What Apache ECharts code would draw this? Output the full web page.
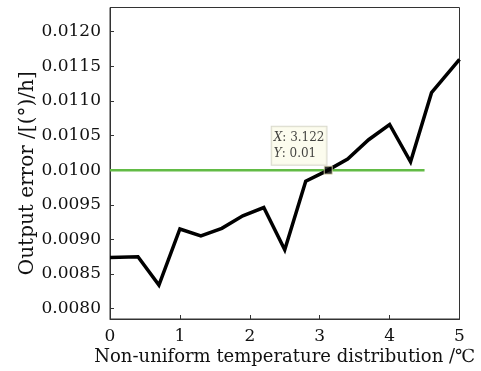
<!DOCTYPE html>
<html>
<head>
<meta charset="utf-8">
<script src="https://cdn.jsdelivr.net/npm/echarts@6/dist/echarts.min.js"></script>
<style>
  html, body { margin: 0; padding: 0; background: #fff; }
  #chart { width: 481px; height: 371px; }
</style>
</head>
<body>
<div id="chart"></div>
<script>
// Non-uniform temperature distribution (°C) vs. output error ((°)/h)
const tempDiff = [0, 0.4, 0.7, 1.0, 1.3, 1.6, 1.9, 2.2, 2.5, 2.8, 3.1, 3.4, 3.7, 4.0, 4.3, 4.6, 5.0];
const outputError = [0.00874, 0.00875, 0.00834, 0.00915, 0.00905, 0.00916, 0.00934, 0.00946, 0.00885, 0.00984, 0.00999, 0.01016, 0.01044, 0.01066, 0.01012, 0.01112, 0.01160];

// Threshold line and the data-tip point where the curve crosses it
const thresholdX = [0, 4.5];
const thresholdY = 0.01;
const tipX = 3.122;
const tipY = 0.01;

const yTicks = [0.0080, 0.0085, 0.0090, 0.0095, 0.0100, 0.0105, 0.0110, 0.0115, 0.0120];
const xTicks = [0, 1, 2, 3, 4, 5];

const FONT = 'DejaVu Serif';

const chart = echarts.init(document.getElementById('chart'));
chart.setOption({
  animation: false,
  backgroundColor: '#ffffff',
  grid: { left: 110, right: 21.5, top: 7.5, bottom: 51.5, show: true, borderColor: '#333', borderWidth: 1 },
  xAxis: {
    type: 'value',
    min: xTicks[0],
    max: xTicks[xTicks.length - 1],
    interval: 1,
    name: 'Non-uniform temperature distribution /℃',
    nameLocation: 'middle',
    nameGap: 29,
    nameMoveOverlap: false,
    nameTextStyle: { fontFamily: FONT, fontSize: 18, color: '#111' },
    axisLine: { show: true, lineStyle: { color: '#333', width: 1 } },
    axisTick: { show: true, inside: true, length: 4, lineStyle: { color: '#333' } },
    axisLabel: { fontFamily: FONT, fontSize: 17, color: '#111', margin: 9 },
    splitLine: { show: false }
  },
  yAxis: {
    type: 'value',
    min: 0.00785,
    max: 0.01235,
    name: 'Output error /[(°)/h]',
    nameLocation: 'middle',
    nameGap: 72,
    nameMoveOverlap: false,
    nameTextStyle: { fontFamily: FONT, fontSize: 20, color: '#111', padding: [0, 20, 0, 0] },
    axisLine: { show: true, lineStyle: { color: '#333', width: 1 } },
    axisTick: { show: true, inside: true, length: 4, lineStyle: { color: '#333' }, customValues: yTicks },
    axisLabel: {
      fontFamily: FONT, fontSize: 17, color: '#111', margin: 9,
      customValues: yTicks,
      formatter: v => v.toFixed(4)
    },
    splitLine: { show: false }
  },
  series: [
    {
      name: 'threshold',
      type: 'line',
      data: thresholdX.map(x => [x, thresholdY]),
      symbol: 'none',
      lineStyle: { color: '#62bb45', width: 2.5 },
      z: 2
    },
    {
      name: 'output error',
      type: 'line',
      data: tempDiff.map((x, i) => [x, outputError[i]]),
      symbol: 'none',
      lineStyle: { color: '#000', width: 3.5, join: 'miter' },
      z: 3
    },
    {
      name: 'data tip',
      type: 'scatter',
      data: [[tipX, tipY]],
      symbol: 'rect',
      symbolSize: 8,
      itemStyle: { color: '#000', borderColor: '#e8e4b8', borderWidth: 1 },
      z: 4,
      label: {
        show: true,
        position: [-52, -39],
        backgroundColor: '#fbfbea',
        borderColor: '#cfcfc2',
        borderWidth: 1,
        padding: [3, 2, 3, 2],
        lineHeight: 16,
        formatter: p => '{i|X}{n|: ' + p.value[0] + '}\n{i|Y}{n|: ' + p.value[1] + '}',
        rich: {
          i: { fontFamily: FONT, fontStyle: 'italic', fontSize: 12, color: '#111', lineHeight: 16 },
          n: { fontFamily: FONT, fontSize: 12, color: '#111', lineHeight: 16 }
        }
      }
    }
  ]
});
</script>
</body>
</html>
